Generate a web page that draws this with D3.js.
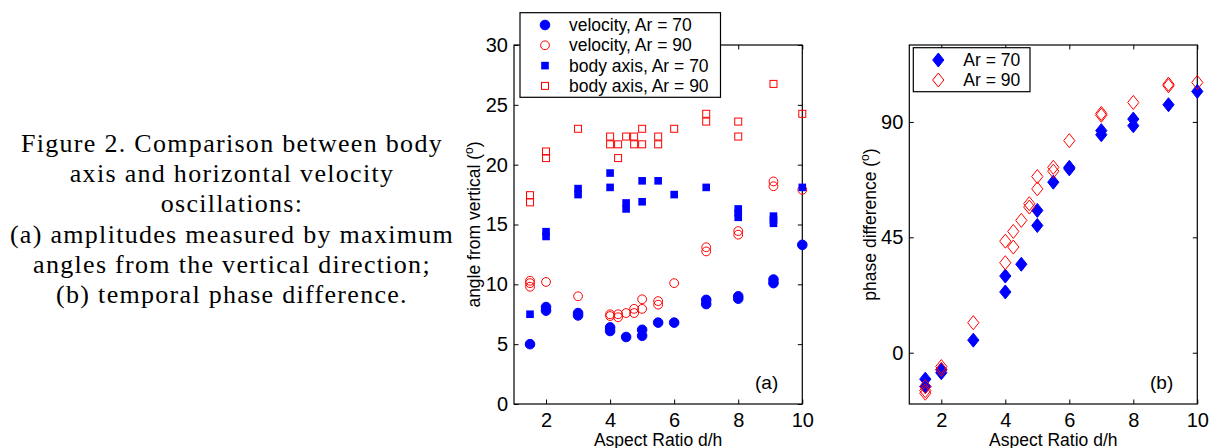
<!DOCTYPE html>
<html>
<head>
<meta charset="utf-8">
<script src="https://cdn.jsdelivr.net/npm/d3@7"></script>
<style>
  body { margin: 0; background: #fff; }
  text { font-family: "Liberation Sans", Arial, sans-serif; }
  .caption { font-family: "Liberation Serif", "DejaVu Serif", serif; }
</style>
</head>
<body>
<div id="chart"></div>
<script>
// caption lines
var captionLines = [
  "Figure 2. Comparison between body",
  "axis and horizontal velocity",
  "oscillations:",
  "(a) amplitudes measured by maximum",
  "angles from the vertical direction;",
  "(b) temporal phase difference."
];

var xTicks = [2, 4, 6, 8, 10];
var yTicksA = [0, 5, 10, 15, 20, 25, 30];
var yTicksB = [0, 45, 90];

// (a) amplitudes, [aspect ratio, angle]
var velAr70 = [[1.5,5.0],[2,8.1],[2,7.8],[3,7.6],[3,7.4],[4,6.4],[4,6.1],[4.5,5.6],[5,6.2],[5,5.7],
  [5.5,6.8],[6,6.8],[7,8.7],[7,8.35],[8,9.0],[8,8.8],[9.1,10.4],[9.1,10.1],[10,13.3]];
var velAr90 = [[1.5,10.3],[1.5,10.1],[1.5,9.8],[2,10.2],[3,9.0],[4,7.5],[4,7.35],[4.25,7.5],[4.25,7.25],
  [4.5,7.6],[4.75,7.95],[4.75,7.6],[5,8.75],[5,7.95],[5.5,8.6],[5.5,8.3],[6,10.1],[7,13.1],[7,12.75],
  [8,14.45],[8,14.15],[9.1,18.6],[9.1,18.2],[10,17.9]];
var bodyAr70 = [[1.5,7.5],[2,14.4],[2,14.0],[3,18.0],[3,17.5],[4,19.3],[4,18.1],[4.5,16.8],[4.5,16.3],
  [5,18.65],[5,16.9],[5.5,18.65],[6,17.5],[7,18.1],[8,16.3],[8,15.95],[8,15.6],[9.1,15.7],[9.1,15.4],
  [9.1,15.1],[10,18.1]];
var bodyAr90 = [[1.5,17.45],[1.5,16.85],[2,21.1],[2,20.55],[3,23.0],[4,22.35],[4,21.7],[4.25,21.7],
  [4.25,20.55],[4.5,22.35],[4.75,22.35],[4.75,21.7],[5,23.0],[5,21.7],[5.5,22.35],[5.5,21.7],[6,23.0],
  [7,24.25],[7,23.6],[8,23.6],[8,22.35],[9.1,26.75],[10,24.25]];

// (b) phase difference, [aspect ratio, degrees]
var phaseAr70 = [[1.5,-10.3],[1.5,-13.2],[2,-6.7],[2,-7.8],[3,4.9],[4,29.9],[4,23.7],[4.5,34.5],
  [5,55.5],[5,49.6],[5.5,66.5],[6,72.3],[6,71.7],[7,86.6],[7,85.0],[8,91.1],[8,88.5],[9.1,96.7],[10,101.9]];
var phaseAr90 = [[1.5,-13.2],[1.5,-14.8],[1.5,-15.8],[2,-5.4],[2,-6.5],[3,11.7],[4,43.5],[4,35.1],
  [4.25,47.3],[4.25,41.2],[4.5,51.6],[4.75,58.1],[4.75,56.8],[5,68.7],[5,63.9],[5.5,72.3],[5.5,70.8],
  [6,82.7],[7,93.3],[7,92.6],[8,97.6],[9.1,104.7],[9.1,104.1],[10,105.4]];

var legendA = ["velocity, Ar = 70", "velocity, Ar = 90", "body axis, Ar = 70", "body axis, Ar = 90"];
var legendB = ["Ar = 70", "Ar = 90"];

var blue = "#0000ff", red = "#ff0000";

var svg = d3.select("#chart").append("svg")
    .attr("width", 1212)
    .attr("height", 448);

// caption
svg.append("g").selectAll("text")
    .data(captionLines)
    .enter().append("text")
    .attr("class", "caption")
    .attr("x", 232)
    .attr("y", function (d, i) { return 152 + i * 30.2; })
    .attr("text-anchor", "middle")
    .style("font-size", "26px")
    .style("letter-spacing", "1.3px")
    .text(function (d) { return d; });

// marker drawing helpers
function circle(g, r, filled, color) {
  g.append("circle").attr("r", r)
    .attr("fill", filled ? color : "none")
    .attr("stroke", color).attr("stroke-width", 1);
}
function square(g, s, filled, color) {
  g.append("rect").attr("x", -s / 2).attr("y", -s / 2).attr("width", s).attr("height", s)
    .attr("fill", filled ? color : "none")
    .attr("stroke", filled ? "none" : color).attr("stroke-width", 1);
}
function diamond(g, w, h, filled, color) {
  g.append("path").attr("d", "M0," + (-h) + "L" + w + ",0L0," + h + "L" + (-w) + ",0Z")
    .attr("fill", filled ? color : "none")
    .attr("stroke", color).attr("stroke-width", 1);
}

function panel(opts) {
  var left = opts.left, right = opts.right, top = 45, bottom = 404;
  var g = svg.append("g");

  var x = d3.scaleLinear().domain([1, 10]).range([left, right]);
  var y = d3.scaleLinear().domain(opts.yDomain).range([bottom, top]);

  // frame with inward ticks on all four sides
  g.append("g").attr("transform", "translate(0," + bottom + ")")
    .call(d3.axisBottom(x).tickValues(xTicks).tickSizeInner(-4.5).tickSizeOuter(0).tickPadding(9)
      .tickFormat(d3.format("d")));
  g.append("g").attr("transform", "translate(0," + top + ")")
    .call(d3.axisTop(x).tickValues(xTicks).tickSizeInner(-4.5).tickSizeOuter(0).tickFormat(""));
  g.append("g").attr("transform", "translate(" + left + ",0)")
    .call(d3.axisLeft(y).tickValues(opts.yTicks).tickSizeInner(-4.5).tickSizeOuter(0).tickPadding(6)
      .tickFormat(d3.format("d")));
  g.append("g").attr("transform", "translate(" + right + ",0)")
    .call(d3.axisRight(y).tickValues(opts.yTicks).tickSizeInner(-4.5).tickSizeOuter(0).tickFormat(""));
  g.selectAll(".domain").remove();
  g.append("rect").attr("x", left).attr("y", top).attr("width", right - left).attr("height", bottom - top)
    .attr("fill", "none").attr("stroke", "#000").attr("stroke-width", 1.2);
  g.selectAll(".tick line").attr("stroke", "#000").attr("stroke-width", 1);
  g.selectAll(".tick text").style("font-size", "20px").attr("fill", "#000")
    .style("font-family", "'Liberation Sans', Arial, sans-serif");

  // data series
  opts.series.forEach(function (s) {
    g.append("g").selectAll("g")
      .data(s.data)
      .enter().append("g")
      .attr("transform", function (d) { return "translate(" + x(d[0]) + "," + y(d[1]) + ")"; })
      .each(function () { s.draw(d3.select(this)); });
  });

  // axis labels
  g.append("text")
    .attr("x", (left + right) / 2).attr("y", 446)
    .attr("text-anchor", "middle").style("font-size", "17.5px")
    .text("Aspect Ratio d/h");
  var yl = g.append("text")
    .attr("transform", "translate(" + opts.ylabelX + "," + (top + bottom) / 2 + ") rotate(-90)")
    .attr("text-anchor", "middle").style("font-size", "17.5px");
  yl.append("tspan").text(opts.ylabel + " (");
  yl.append("tspan").attr("dy", -7).style("font-size", "12px").text("o");
  yl.append("tspan").attr("dy", 7).text(")");

  // panel tag
  g.append("text").attr("x", opts.tagX).attr("y", 389).style("font-size", "19px").text(opts.tag);

  // legend
  var lg = g.append("g");
  lg.append("rect").attr("x", opts.legend.x).attr("y", opts.legend.y)
    .attr("width", opts.legend.w).attr("height", opts.legend.h)
    .attr("fill", "#fff").attr("stroke", "#000").attr("stroke-width", 1.2);
  opts.legend.labels.forEach(function (lab, i) {
    var cy = opts.legend.rowY + i * opts.legend.rowStep;
    var m = lg.append("g").attr("transform", "translate(" + opts.legend.markX + "," + cy + ")");
    opts.series[i].draw(m);
    lg.append("text").attr("x", opts.legend.textX).attr("y", cy + 6)
      .style("font-size", "17.5px").text(lab);
  });
}

panel({
  left: 514, right: 802.3,
  yDomain: [0, 30], yTicks: yTicksA,
  ylabel: "angle from vertical", ylabelX: 480,
  tag: "(a)", tagX: 755,
  series: [
    { data: velAr70, draw: function (m) { circle(m, 4.8, true, blue); } },
    { data: velAr90, draw: function (m) { circle(m, 4.4, false, red); } },
    { data: bodyAr70, draw: function (m) { square(m, 7.6, true, blue); } },
    { data: bodyAr90, draw: function (m) { square(m, 7, false, red); } }
  ],
  legend: { x: 520, y: 12.7, w: 200.5, h: 84.6, labels: legendA,
            markX: 545, textX: 569, rowY: 25, rowStep: 20.3 }
});

panel({
  left: 909.3, right: 1197.3,
  yDomain: [-20, 120], yTicks: yTicksB,
  ylabel: "phase difference", ylabelX: 876,
  tag: "(b)", tagX: 1150,
  series: [
    { data: phaseAr70, draw: function (m) { diamond(m, 5.6, 7, true, blue); } },
    { data: phaseAr90, draw: function (m) { diamond(m, 5.6, 7, false, red); } }
  ],
  legend: { x: 913.3, y: 47.7, w: 116.7, h: 44, labels: legendB,
            markX: 938.3, textX: 963.3, rowY: 60, rowStep: 20 }
});
</script>
</body>
</html>
